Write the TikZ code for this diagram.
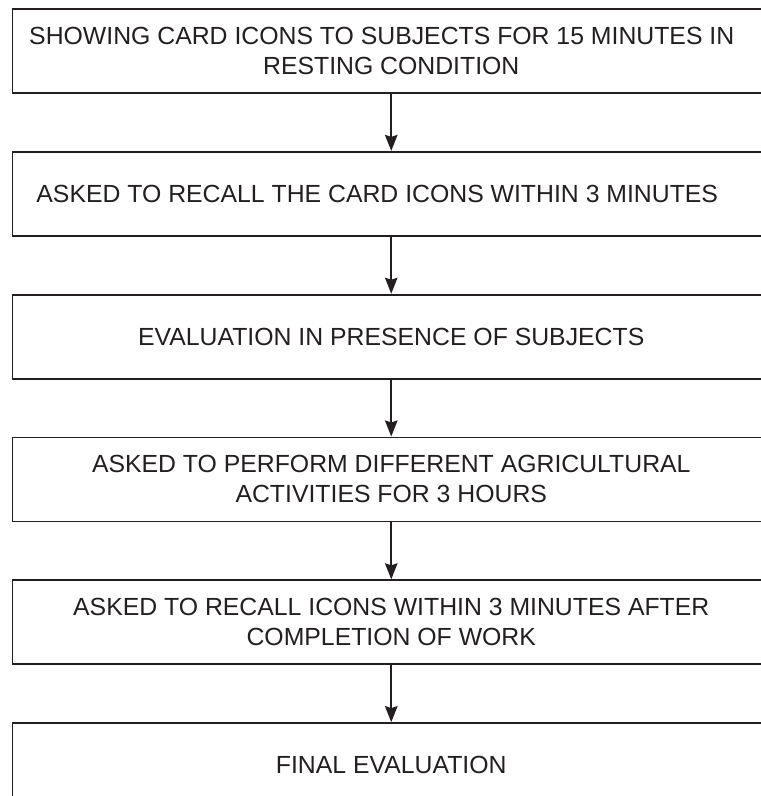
\documentclass[tikz,border=0pt]{standalone}
\usepackage{fontspec}
\setmainfont{Liberation Sans}
\usetikzlibrary{positioning, arrows.meta}
\definecolor{inkgray}{HTML}{231F20}
\tikzset{
  x=1pt, y=1pt,
  font=\fontsize{24.8}{30}\selectfont,
  % Set arrowhead
  >={Stealth[length=16pt, width=12.5pt, inset=2pt]},
  % Step box node
  bnode/.style={draw=inkgray, line width=1.8pt, text=inkgray, shape=rectangle,
    minimum width=757.5pt, minimum height=84pt, inner sep=0pt, align=center},
  % Arrows
  q->/.style={->, draw=inkgray, fill=inkgray, line width=1.8pt},
}
\begin{document}
\begin{tikzpicture}
      
      % Page frame, boxes run past the right edge
      \path[use as bounding box, clip] (0,0) rectangle (761,-796);
      
      \node[bnode] (show) at (391.25,-51)
      {\hspace*{-19pt}SHOWING CARD ICONS TO SUBJECTS FOR 15 MINUTES IN\\ RESTING CONDITION};
      \node[bnode, below=57pt of show] (recall)
      {\hspace*{-28pt}ASKED TO RECALL THE CARD ICONS WITHIN 3 MINUTES};
      \node[bnode, below=57pt of recall] (eval) {EVALUATION IN PRESENCE OF SUBJECTS};
      \node[bnode, below=57pt of eval] (work)
      {ASKED TO PERFORM DIFFERENT AGRICULTURAL\\ ACTIVITIES FOR 3 HOURS};
      \node[bnode, below=57pt of work] (recall2)
      {ASKED TO RECALL ICONS WITHIN 3 MINUTES AFTER\\ COMPLETION OF WORK};
      \node[bnode, below=57pt of recall2] (final) {FINAL EVALUATION};
      
      \draw[q->] (show) -- (recall);
      \draw[q->] (recall) -- (eval);
      \draw[q->] (eval) -- (work);
      \draw[q->] (work) -- (recall2);
      \draw[q->] (recall2) -- (final);
    \end{tikzpicture}
\end{document}
